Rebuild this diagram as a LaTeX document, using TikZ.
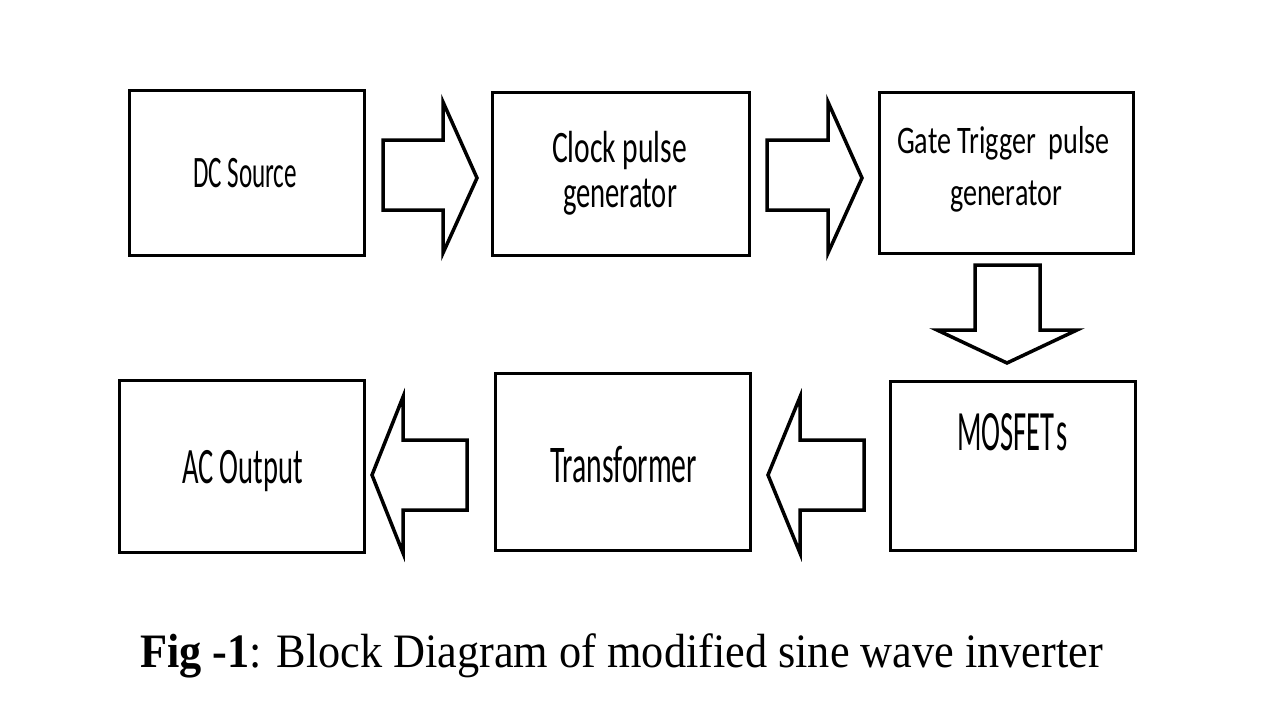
\documentclass[tikz,border=0pt]{standalone}
\usepackage{fontspec}
\usepackage{graphicx}
\setmainfont{Carlito}
\newfontfamily\capfont{Liberation Serif}
\newcommand\sqtext[3]{\resizebox{#1pt}{\height}{\fontsize{#2}{#2}\selectfont #3}}
\begin{document}
\begin{tikzpicture}[x=1pt,y=-1pt,
  blk/.style={draw=black,line width=3pt,fill=white},
  barrow/.style={draw=black,line width=3.5pt,fill=white,line join=miter},
  lbl/.style={inner sep=0pt,anchor=base}]
\useasboundingbox[fill=white] (0,0) rectangle (1280,720);
% boxes
\draw[blk] (129,90) rectangle (364,255) node[pos=0.5,inner sep=0] (dc) {};
\draw[blk] (492,92) rectangle (749,255) node[pos=0.5,inner sep=0] (clk) {};
\draw[blk] (879,92) rectangle (1133,253) node[pos=0.5,inner sep=0] (gate) {};
\draw[blk] (890,381) rectangle (1135,550) node[pos=0.5,inner sep=0] (mos) {};
\draw[blk] (495,373) rectangle (750,550) node[pos=0.5,inner sep=0] (tr) {};
\draw[blk] (119,380) rectangle (364,552) node[pos=0.5,inner sep=0] (ac) {};
% labels
\node[lbl] (dct) at (245,187) {\sqtext{104}{45}{DC Source}};
\node[lbl] (clkt1) at (619.5,162) {\sqtext{135}{45}{Clock pulse}};
\node[lbl] (clkt2) at (620,207) {\sqtext{114}{45}{generator}};
\node[lbl] (gatet1) at (1003.5,153) {\sqtext{213}{39}{Gate Trigger\ \ pulse}};
\node[lbl] (gatet2) at (1006,205) {\sqtext{112}{39}{generator}};
\node[lbl] (most) at (1012.5,450) {\sqtext{111}{57}{MOSFET\kern0.08em s}};
\node[lbl] (trt) at (623.5,482) {\sqtext{147}{53}{Transformer}};
\node[lbl] (act) at (242.5,483) {\sqtext{121}{51}{AC Output}};
% block arrows
\draw[barrow] (383,140) -- (443,140) -- (443,102) -- (477,178) -- (443,253) -- (443,210) -- (383,210) -- cycle;
\draw[barrow] (767,140) -- (828,140) -- (828,102) -- (862,178) -- (828,253) -- (828,210) -- (767,210) -- cycle;
\draw[barrow] (975,265) -- (1040,265) -- (1040,330) -- (1077,330) -- (1007,363) -- (937,330) -- (975,330) -- cycle;
\draw[barrow] (864,440) -- (800,440) -- (800,397) -- (768,475) -- (800,553) -- (800,510) -- (864,510) -- cycle;
\draw[barrow] (467,440) -- (403,440) -- (403,397) -- (372,475) -- (403,553) -- (403,510) -- (467,510) -- cycle;
% caption
\node[lbl] (cap) at (621.5,667) {\sqtext{963}{48}{\capfont\textbf{Fig -1}: Block Diagram of modified sine wave inverter}};
\end{tikzpicture}
\end{document}
